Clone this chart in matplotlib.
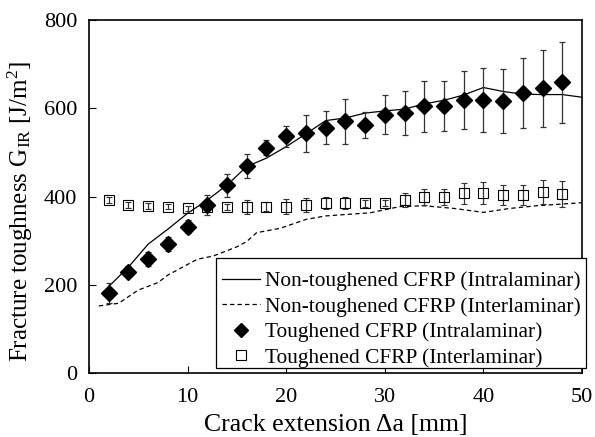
import matplotlib
matplotlib.use("Agg")
import matplotlib.pyplot as plt
from matplotlib.lines import Line2D
from matplotlib.patches import Rectangle

plt.rcParams["font.family"] = ["Liberation Serif", "DejaVu Serif"]
plt.rcParams["mathtext.fontset"] = "custom"
plt.rcParams["mathtext.rm"] = "Liberation Serif"
plt.rcParams["mathtext.it"] = "Liberation Serif:italic"

# Non-toughened CFRP (Intralaminar) - solid line
intra_line_x = [2, 4, 6, 8, 10, 12, 14, 16, 18, 20, 22, 24, 26, 28, 30, 32,
                34, 36, 38, 40, 42, 44, 46, 48, 50]
intra_line_y = [196, 240, 292, 326, 362, 392, 426, 468, 487, 513, 542, 572,
                578, 589, 594, 598, 610, 618, 630, 647, 638, 632, 631, 631, 625]

# Non-toughened CFRP (Interlaminar) - dashed line
inter_line_x = [1, 3, 5, 7, 8, 11, 12.6, 15, 16, 17, 19.4, 22, 24, 28.5,
                31.5, 34, 37, 40, 42.7, 45.4, 50]
inter_line_y = [152, 158, 188, 205, 222, 258, 265, 286, 298, 318, 328, 348,
                356, 363, 377, 379, 373, 364, 373, 379, 386]

# Toughened CFRP (Intralaminar) - diamonds
tough_x = [2, 4, 6, 8, 10, 12, 14, 16, 18, 20, 22, 24, 26, 28, 30, 32, 34,
           36, 38, 40, 42, 44, 46, 48]
tough_intra = [181, 230, 258, 293, 332, 381, 425, 470, 511, 536, 543, 556,
               570, 562, 585, 589, 604, 605, 619, 619, 617, 635, 645, 659]
tough_intra_err = [22, 12, 16, 16, 15, 23, 27, 27, 17, 24, 42, 37, 50, 29,
                   44, 50, 58, 57, 66, 72, 73, 80, 88, 92]

# Toughened CFRP (Interlaminar) - open squares
tough_inter = [392, 381, 379, 377, 373, 377, 377, 376, 377, 377, 381, 385,
               385, 385, 386, 392, 399, 399, 407, 408, 403, 404, 410, 406]
tough_inter_err = [7, 6, 7, 5, 6, 7, 7, 15, 10, 17, 15, 14, 14, 8, 7, 15,
                   19, 19, 24, 25, 22, 23, 28, 30]

labels = ["Non-toughened CFRP (Intralaminar)",
          "Non-toughened CFRP (Interlaminar)",
          "Toughened CFRP (Intralaminar)",
          "Toughened CFRP (Interlaminar)"]

fig = plt.figure(figsize=(5.95, 4.37), dpi=100)
ax = fig.add_axes([89 / 595, (437 - 373) / 437, 493 / 595, 353 / 437])

ax.plot(intra_line_x, intra_line_y, color="black", lw=0.9)
ax.plot(inter_line_x, inter_line_y, color="black", lw=0.9, ls=(0, (3.5, 2.5)))
ax.errorbar(tough_x, tough_intra, yerr=tough_intra_err, fmt="D",
            color="black", ms=8.5, ecolor="#333333", elinewidth=0.9,
            capsize=2.5, capthick=0.9)
ax.errorbar(tough_x, tough_inter, yerr=tough_inter_err, fmt="s",
            mfc="none", mec="black", mew=0.8, ms=7.5, ecolor="#333333",
            elinewidth=0.9, capsize=2.5, capthick=0.9)

ax.set_xlim(0, 50)
ax.set_ylim(0, 800)
ax.set_xticks([0, 10, 20, 30, 40, 50])
ax.set_yticks([0, 200, 400, 600, 800])
ax.tick_params(direction="in", length=5, width=0.8, labelsize=16)
ax.tick_params(axis="x", pad=11)
ax.tick_params(axis="y", pad=8.5)
for s in ax.spines.values():
    s.set_linewidth(1.2)

ax.set_xlabel("Crack extension \u0394a [mm]", fontsize=18.5, labelpad=4.5)
ax.set_ylabel("Fracture toughness G$_{\\mathrm{IR}}$ [J/m$^2$]", fontsize=18)
ax.yaxis.set_label_coords((35 - 89) / 493, (373 - 212) / 353)

# legend box drawn separately so the text can sit low in it, as in the original
fig.patches.append(Rectangle((216 / 595, (437 - 368) / 437), 370 / 595,
                             110 / 437, transform=fig.transFigure,
                             facecolor="white", edgecolor="black", lw=0.9,
                             zorder=4))
handles = [
    Line2D([], [], color="black", lw=0.9),
    Line2D([], [], color="black", lw=0.9, ls=(0, (3.5, 2.5))),
    Line2D([], [], color="black", marker="D", ls="none", ms=7),
    Line2D([], [], color="black", marker="s", mfc="none", mew=0.8,
           ls="none", ms=7),
]
leg = fig.legend(handles, labels, loc="lower left",
                 bbox_to_anchor=(216 / 595, 63.6 / 437),
                 fontsize=15.4, frameon=False,
                 handlelength=1.78, handletextpad=0.23,
                 borderpad=0.27, labelspacing=0.26, borderaxespad=0)
leg.set_zorder(5)

fig.savefig("out.png", dpi=100)
